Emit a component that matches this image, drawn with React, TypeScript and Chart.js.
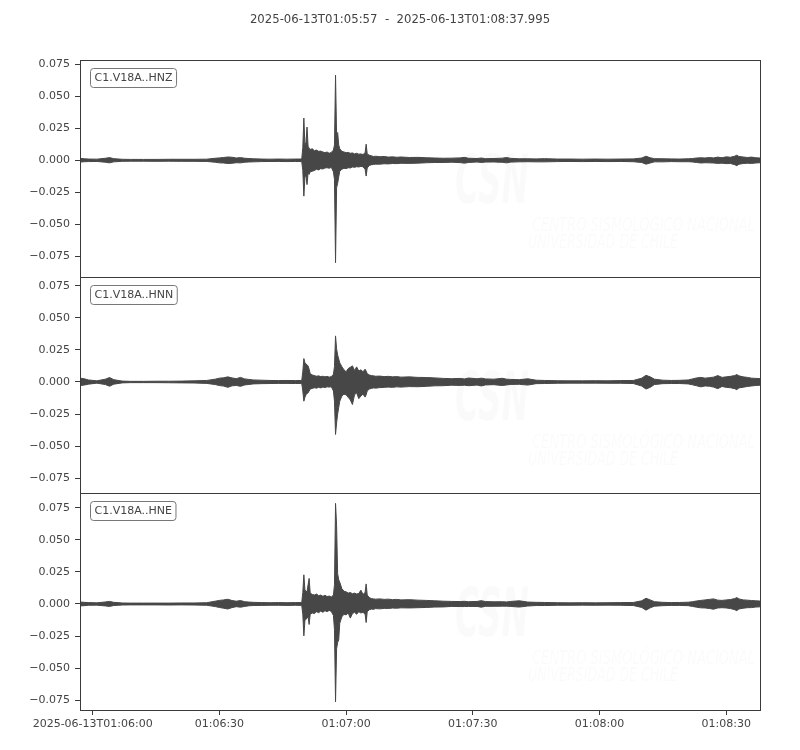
import React, { useEffect, useRef } from "react";
import { Chart, registerables } from "chart.js";

Chart.register(...registerables);

// ---------------- DATA ----------------
const titleText = "2025-06-13T01:05:57  -  2025-06-13T01:08:37.995";
const traceDuration = 160.995; // seconds after 2025-06-13T01:05:57
const channelLabels = ["C1.V18A..HNZ", "C1.V18A..HNN", "C1.V18A..HNE"];

const yTickValues = [-0.075, -0.05, -0.025, 0, 0.025, 0.05, 0.075];
const xTickSeconds = [3, 33, 63, 93, 123, 153];
const xTickLabels = ["2025-06-13T01:06:00", "01:06:30", "01:07:00", "01:07:30", "01:08:00", "01:08:30"];

const yLimitsHNZ = [-0.0912, 0.0784];
const yLimitsHNN = [-0.0867, 0.082];
const yLimitsHNE = [-0.0828, 0.0867];

// time (s since start) of each envelope sample
const timeSec = [
  0, 1, 2, 4, 6, 7, 8, 10, 12, 15, 18, 21, 24, 27, 30, 32, 33, 34, 35, 36, 37, 38, 39, 40, 41, 43, 45, 47, 49, 51, 52.5,
  52.75, 53, 53.25, 53.5, 53.75, 54, 54.25, 54.5,
  55, 55.5, 56, 56.5, 57, 57.5, 58, 58.5, 59, 59.5, 60,
  60.25, 60.5, 60.75, 61, 61.25, 61.5,
  62, 62.5, 63, 63.5, 64, 64.5, 65, 65.5, 66, 66.5, 67, 67.5,
  67.75,
  68, 68.5, 69, 69.5, 70,
  71, 72, 73, 74, 75, 76,
  78, 80,
  82, 84, 86, 88, 90, 91, 92, 94, 95, 96, 98, 100, 101, 102, 104, 106, 108, 110, 113, 116,
  119, 122, 125, 128, 131, 133, 134, 135, 136, 138, 140, 142, 144, 145, 146, 147, 148, 149, 150, 151,
  152, 153, 154, 155, 155.5, 156, 157, 158, 159, 160, 160.995,
];

// HNZ envelope (upper / lower)
const hnzUpper = [
  0.0015, 0.0012, 0.001, 0.0009, 0.0016, 0.0021, 0.0013, 0.0008, 0.0007, 0.0007,
  0.0007, 0.0008, 0.0008, 0.0008, 0.0009, 0.0016, 0.0019, 0.0022, 0.0026, 0.0024,
  0.0018, 0.0021, 0.0016, 0.0014, 0.0012, 0.001, 0.0009, 0.001, 0.0009, 0.001, 0.001,
  0.01, 0.033, 0.012, 0.014, 0.026, 0.011, 0.0095, 0.0085,
  0.009, 0.0075, 0.008, 0.007, 0.0072, 0.0065, 0.006, 0.0065, 0.0055, 0.0062, 0.008,
  0.012, 0.0665, 0.02, 0.0217, 0.012, 0.009,
  0.007, 0.0065, 0.006, 0.0062, 0.0055, 0.0058, 0.005, 0.0055, 0.0048, 0.005, 0.0045, 0.006,
  0.0126,
  0.005, 0.004, 0.0035, 0.003, 0.0032,
  0.0028, 0.003, 0.0025, 0.0027, 0.0024, 0.0026,
  0.0022, 0.0023,
  0.002, 0.0018, 0.0016, 0.0017, 0.0019, 0.0023, 0.0016, 0.0014, 0.0018, 0.0013,
  0.0014, 0.0017, 0.0022, 0.0015, 0.0012, 0.0012, 0.0011, 0.0013, 0.001, 0.001,
  0.0009, 0.001, 0.0009, 0.001, 0.0011, 0.0018, 0.0032, 0.002, 0.0013, 0.0012,
  0.0011, 0.001, 0.0012, 0.0014, 0.0018, 0.002, 0.0018, 0.0022, 0.0019, 0.0025,
  0.002, 0.0027, 0.0024, 0.0032, 0.004, 0.003, 0.0026, 0.0022, 0.0025, 0.002, 0.0018,
];
const hnzLower = [
  -0.0014, -0.0011, -0.001, -0.0009, -0.0015, -0.002, -0.0012, -0.0008, -0.0007, -0.0007,
  -0.0008, -0.0007, -0.0008, -0.0008, -0.0009, -0.0015, -0.002, -0.0021, -0.0025, -0.0023,
  -0.0019, -0.002, -0.0015, -0.0013, -0.0012, -0.001, -0.0009, -0.0009, -0.001, -0.0009, -0.001,
  -0.008, -0.028, -0.013, -0.012, -0.019, -0.01, -0.011, -0.009,
  -0.0085, -0.008, -0.007, -0.0075, -0.0065, -0.0068, -0.006, -0.0058, -0.0062, -0.0055, -0.009,
  -0.015, -0.08, -0.0215, -0.018, -0.013, -0.0085,
  -0.007, -0.0062, -0.0065, -0.0058, -0.006, -0.0052, -0.0055, -0.005, -0.0052, -0.0048, -0.005, -0.007,
  -0.0123,
  -0.006, -0.004, -0.0035, -0.0032, -0.003,
  -0.003, -0.0027, -0.0028, -0.0025, -0.0026, -0.0023,
  -0.0024, -0.0022,
  -0.0019, -0.0017, -0.0017, -0.0015, -0.0018, -0.0022, -0.0017, -0.0013, -0.0017, -0.0014,
  -0.0013, -0.0016, -0.002, -0.0014, -0.0012, -0.0011, -0.0012, -0.0012, -0.001, -0.0009,
  -0.001, -0.0009, -0.001, -0.0009, -0.0011, -0.0017, -0.003, -0.0021, -0.0012, -0.0012,
  -0.001, -0.0011, -0.0011, -0.0013, -0.0017, -0.0021, -0.0019, -0.002, -0.0021, -0.0024,
  -0.0022, -0.0026, -0.0025, -0.0034, -0.0042, -0.0031, -0.0025, -0.0023, -0.0024, -0.0021, -0.0019,
];

// HNN envelope
const hnnUpper = [
  0.003, 0.0025, 0.0016, 0.0009, 0.0022, 0.0035, 0.0018, 0.0007, 0.0005, 0.0005,
  0.0006, 0.0006, 0.0007, 0.0009, 0.0012, 0.0022, 0.003, 0.0033, 0.004, 0.0032,
  0.0026, 0.0036, 0.0024, 0.002, 0.0016, 0.0014, 0.0012, 0.0011, 0.0012, 0.0011, 0.0012,
  0.008, 0.0183, 0.015, 0.014, 0.0135, 0.0125, 0.01, 0.0065,
  0.0055, 0.005, 0.0045, 0.0048, 0.0042, 0.0045, 0.004, 0.0044, 0.0038, 0.0042, 0.006,
  0.012, 0.036, 0.026, 0.021, 0.018, 0.015,
  0.012, 0.0095, 0.008, 0.0105, 0.0115, 0.0126, 0.009, 0.0118, 0.0085, 0.0095, 0.008, 0.01,
  0.0085,
  0.0065, 0.0055, 0.005, 0.0048, 0.0045,
  0.0046, 0.0042, 0.0044, 0.004, 0.0042, 0.0038,
  0.004, 0.0036,
  0.0035, 0.0032, 0.0028, 0.0026, 0.0028, 0.0024, 0.0031, 0.0025, 0.003, 0.0024,
  0.0022, 0.0029, 0.0022, 0.002, 0.0018, 0.0025, 0.0014, 0.0012, 0.001, 0.0009,
  0.0009, 0.001, 0.0009, 0.0011, 0.0012, 0.003, 0.0052, 0.004, 0.0022, 0.0014,
  0.0012, 0.0013, 0.0016, 0.0024, 0.0032, 0.0036, 0.003, 0.0034, 0.0038, 0.005,
  0.0036, 0.004, 0.0044, 0.005, 0.0058, 0.0048, 0.004, 0.0036, 0.003, 0.0028, 0.0026,
];
const hnnLower = [
  -0.0028, -0.0024, -0.0017, -0.0009, -0.002, -0.0033, -0.0017, -0.0007, -0.0005, -0.0005,
  -0.0005, -0.0006, -0.0007, -0.0008, -0.0011, -0.002, -0.0028, -0.0032, -0.0042, -0.003,
  -0.0027, -0.0034, -0.0023, -0.0019, -0.0015, -0.0013, -0.0012, -0.0011, -0.0011, -0.0012, -0.0011,
  -0.007, -0.015, -0.012, -0.01, -0.009, -0.0085, -0.007, -0.0055,
  -0.005, -0.0045, -0.0048, -0.0042, -0.0046, -0.004, -0.0043, -0.0038, -0.004, -0.0037, -0.007,
  -0.015, -0.041, -0.032, -0.025, -0.02, -0.015,
  -0.011, -0.0095, -0.01, -0.012, -0.014, -0.0176, -0.01, -0.0085, -0.013, -0.011, -0.0095, -0.0118,
  -0.01,
  -0.007, -0.0055, -0.005, -0.0046, -0.0048,
  -0.0044, -0.0042, -0.004, -0.0042, -0.0038, -0.004,
  -0.0036, -0.0037,
  -0.0034, -0.003, -0.0029, -0.0025, -0.0027, -0.0025, -0.0029, -0.0024, -0.0031, -0.0023,
  -0.0021, -0.0028, -0.0023, -0.0019, -0.0018, -0.0024, -0.0013, -0.0012, -0.001, -0.0009,
  -0.0009, -0.0009, -0.001, -0.001, -0.0012, -0.0032, -0.0055, -0.0042, -0.002, -0.0013,
  -0.0012, -0.0012, -0.0015, -0.0022, -0.003, -0.0038, -0.0031, -0.0033, -0.004, -0.0052,
  -0.0035, -0.0042, -0.0045, -0.0052, -0.006, -0.0046, -0.0041, -0.0035, -0.0031, -0.0027, -0.0025,
];

// HNE envelope
const hneUpper = [
  0.0016, 0.0013, 0.0011, 0.0009, 0.0016, 0.002, 0.0013, 0.0008, 0.0007, 0.0007,
  0.0007, 0.0007, 0.0008, 0.0008, 0.001, 0.0022, 0.0028, 0.0032, 0.0037, 0.0027,
  0.0022, 0.0027, 0.0018, 0.0015, 0.0013, 0.0011, 0.001, 0.0011, 0.001, 0.0011, 0.0011,
  0.009, 0.0228, 0.011, 0.01, 0.0095, 0.015, 0.02, 0.0085,
  0.0075, 0.007, 0.0078, 0.0065, 0.007, 0.006, 0.0068, 0.0058, 0.0062, 0.0055, 0.007,
  0.015, 0.0786, 0.0615, 0.0236, 0.019, 0.017,
  0.012, 0.01, 0.0095, 0.0085, 0.009, 0.008, 0.0085, 0.0078, 0.0082, 0.0108, 0.0075, 0.009,
  0.0157,
  0.007, 0.005, 0.0042, 0.004, 0.0038,
  0.004, 0.0036, 0.0038, 0.0034, 0.0036, 0.0032,
  0.0034, 0.003,
  0.0028, 0.0025, 0.0022, 0.002, 0.0019, 0.0021, 0.0018, 0.002, 0.0026, 0.0019,
  0.0017, 0.0018, 0.0016, 0.002, 0.0025, 0.0015, 0.0013, 0.0012, 0.001, 0.0009,
  0.001, 0.0009, 0.001, 0.0011, 0.0012, 0.0025, 0.0045, 0.0032, 0.0018, 0.0013,
  0.0011, 0.0012, 0.0014, 0.0018, 0.0024, 0.0028, 0.0032, 0.0036, 0.004, 0.003,
  0.0028, 0.0032, 0.0035, 0.0042, 0.005, 0.004, 0.0032, 0.003, 0.0027, 0.0025, 0.0023,
];
const hneLower = [
  -0.0015, -0.0013, -0.001, -0.0009, -0.0015, -0.0019, -0.0012, -0.0008, -0.0007, -0.0007,
  -0.0007, -0.0008, -0.0007, -0.0008, -0.001, -0.002, -0.0027, -0.0033, -0.0039, -0.0028,
  -0.0021, -0.0025, -0.0019, -0.0014, -0.0012, -0.0011, -0.001, -0.001, -0.0011, -0.001, -0.0011,
  -0.008, -0.0249, -0.013, -0.012, -0.011, -0.01, -0.016, -0.008,
  -0.007, -0.0075, -0.006, -0.0068, -0.0055, -0.0065, -0.0052, -0.006, -0.005, -0.0058, -0.009,
  -0.02, -0.0764, -0.035, -0.03, -0.028, -0.015,
  -0.01, -0.008, -0.0085, -0.007, -0.011, -0.0075, -0.0065, -0.008, -0.006, -0.007, -0.0065, -0.008,
  -0.0145,
  -0.006, -0.0045, -0.004, -0.0042, -0.0036,
  -0.0038, -0.0034, -0.0035, -0.0032, -0.0033, -0.003,
  -0.0031, -0.0029,
  -0.0027, -0.0024, -0.0023, -0.0019, -0.002, -0.002, -0.0019, -0.0019, -0.0025, -0.0018,
  -0.0018, -0.0017, -0.0017, -0.0019, -0.0024, -0.0016, -0.0012, -0.0012, -0.001, -0.001,
  -0.0009, -0.001, -0.0009, -0.001, -0.0012, -0.0027, -0.0048, -0.003, -0.0017, -0.0013,
  -0.0011, -0.0011, -0.0013, -0.0019, -0.0025, -0.003, -0.0031, -0.0035, -0.0041, -0.0031,
  -0.0029, -0.0031, -0.0036, -0.0044, -0.0052, -0.0039, -0.0033, -0.0029, -0.0028, -0.0024, -0.0022,
];

// ---------------- STYLE / LAYOUT ----------------
const W = 800;
const H = 750;
const FONT = '"DejaVu Sans", sans-serif';
const TEXT_COLOR = "#444444";
const WAVE_COLOR = "#474747";
const FRAME_COLOR = "#3a3a3a";
const PLOT_LEFT = 80;
const PLOT_RIGHT = 760;
const panelTops = [60, 277, 493];
const panelBottoms = [277, 493, 710];

const panelSeries = [
  { upper: hnzUpper, lower: hnzLower, ylim: yLimitsHNZ },
  { upper: hnnUpper, lower: hnnLower, ylim: yLimitsHNN },
  { upper: hneUpper, lower: hneLower, ylim: yLimitsHNE },
];

const toPoints = (vals: number[]) => timeSec.map((t, i) => ({ x: t, y: vals[i] }));

const fmtY = (v: number) => {
  const s = Math.abs(v).toFixed(3);
  return v < -1e-9 ? "\u2212" + s : s;
};

function drawFitted(ctx: CanvasRenderingContext2D, text: string, x: number, y: number, width: number) {
  const m = ctx.measureText(text).width;
  ctx.save();
  ctx.translate(x, y);
  ctx.scale(width / m, 1);
  ctx.fillText(text, 0, 0);
  ctx.restore();
}

function makePanelPlugin(idx: number) {
  return {
    id: "panelDecor" + idx,
    beforeDatasetsDraw(chart: any) {
      const { ctx, chartArea } = chart;
      const { left, top } = chartArea;
      ctx.save();
      ctx.fillStyle = "rgba(0,0,0,0.02)";
      ctx.textBaseline = "alphabetic";
      ctx.textAlign = "left";
      ctx.font = `italic bold 68px ${FONT}`;
      drawFitted(ctx, "CSN", left + 375, top + 143, 74);
      ctx.font = `italic 19px ${FONT}`;
      drawFitted(ctx, "CENTRO SISMOLÓGICO NACIONAL", left + 452, top + 171, 223);
      drawFitted(ctx, "UNIVERSIDAD DE CHILE", left + 448, top + 188, 150);
      ctx.restore();
    },
    afterDraw(chart: any) {
      const { ctx, chartArea } = chart;
      const { left, top, right, bottom } = chartArea;
      ctx.save();
      // frame
      ctx.strokeStyle = FRAME_COLOR;
      ctx.lineWidth = 1;
      ctx.strokeRect(Math.round(left) + 0.5, Math.round(top) + 0.5, Math.round(right - left), Math.round(bottom - top));
      // channel label box
      ctx.font = `11px ${FONT}`;
      const label = channelLabels[idx];
      const tw = ctx.measureText(label).width;
      const bx = left + 10.5;
      const by = top + 8.5;
      const bw = tw + 8;
      const bh = 19;
      ctx.beginPath();
      if ((ctx as any).roundRect) (ctx as any).roundRect(bx, by, bw, bh, 3);
      else ctx.rect(bx, by, bw, bh);
      ctx.fillStyle = "#ffffff";
      ctx.fill();
      ctx.strokeStyle = "#777777";
      ctx.stroke();
      ctx.fillStyle = TEXT_COLOR;
      ctx.textAlign = "left";
      ctx.textBaseline = "middle";
      ctx.fillText(label, bx + 4, by + bh / 2 + 0.5);
      if (idx === 0) {
        ctx.font = `11.7px ${FONT}`;
        ctx.textAlign = "center";
        ctx.textBaseline = "middle";
        ctx.fillText(titleText, W / 2, 20);
      }
      ctx.restore();
    },
  };
}

function buildConfig(idx: number): any {
  const s = panelSeries[idx];
  const isLast = idx === panelSeries.length - 1;
  return {
    type: "line",
    data: {
      datasets: [
        {
          data: toPoints(s.upper),
          borderColor: WAVE_COLOR,
          backgroundColor: WAVE_COLOR,
          borderWidth: 1,
          pointRadius: 0,
          tension: 0,
          fill: "+1",
        },
        {
          data: toPoints(s.lower),
          borderColor: WAVE_COLOR,
          backgroundColor: WAVE_COLOR,
          borderWidth: 1,
          pointRadius: 0,
          tension: 0,
          fill: false,
        },
      ],
    },
    options: {
      animation: false,
      responsive: false,
      devicePixelRatio: 1,
      events: [],
      layout: {
        padding: {
          left: 0,
          right: W - PLOT_RIGHT,
          top: panelTops[idx],
          bottom: isLast ? 0 : H - panelBottoms[idx],
        },
      },
      plugins: {
        legend: { display: false },
        tooltip: { enabled: false },
        title: { display: false },
      },
      scales: {
        x: {
          type: "linear",
          min: 0,
          max: traceDuration,
          display: isLast,
          afterFit: (sc: any) => {
            if (isLast) sc.height = H - panelBottoms[idx];
          },
          afterBuildTicks: (sc: any) => {
            sc.ticks = xTickSeconds.map((v) => ({ value: v }));
          },
          ticks: {
            autoSkip: false,
            maxRotation: 0,
            minRotation: 0,
            padding: 3,
            color: TEXT_COLOR,
            font: { family: FONT, size: 11 },
            callback: (_v: any, i: number) => xTickLabels[i],
          },
          grid: { display: true, drawOnChartArea: false, drawTicks: true, tickLength: 5, color: FRAME_COLOR },
          border: { display: false },
        },
        y: {
          type: "linear",
          min: s.ylim[0],
          max: s.ylim[1],
          afterFit: (sc: any) => {
            sc.width = PLOT_LEFT;
          },
          afterBuildTicks: (sc: any) => {
            sc.ticks = yTickValues.map((v) => ({ value: v }));
          },
          ticks: {
            padding: 5,
            color: TEXT_COLOR,
            font: { family: FONT, size: 11 },
            callback: (v: any) => fmtY(Number(v)),
          },
          grid: { display: true, drawOnChartArea: false, drawTicks: true, tickLength: 5, color: FRAME_COLOR },
          border: { display: false },
        },
      },
    },
    plugins: [makePanelPlugin(idx)],
  };
}

export default function App() {
  const r0 = useRef<HTMLCanvasElement>(null);
  const r1 = useRef<HTMLCanvasElement>(null);
  const r2 = useRef<HTMLCanvasElement>(null);

  useEffect(() => {
    const refs = [r0, r1, r2];
    const charts = refs.map((r, i) => new Chart(r.current as HTMLCanvasElement, buildConfig(i)));
    return () => charts.forEach((c) => c.destroy());
  }, []);

  const cstyle: React.CSSProperties = { position: "absolute", left: 0, top: 0, width: W, height: H };
  return (
    <div style={{ position: "absolute", left: 0, top: 0, width: W, height: H, background: "#ffffff" }}>
      <canvas ref={r0} width={W} height={H} style={cstyle} />
      <canvas ref={r1} width={W} height={H} style={cstyle} />
      <canvas ref={r2} width={W} height={H} style={cstyle} />
    </div>
  );
}
